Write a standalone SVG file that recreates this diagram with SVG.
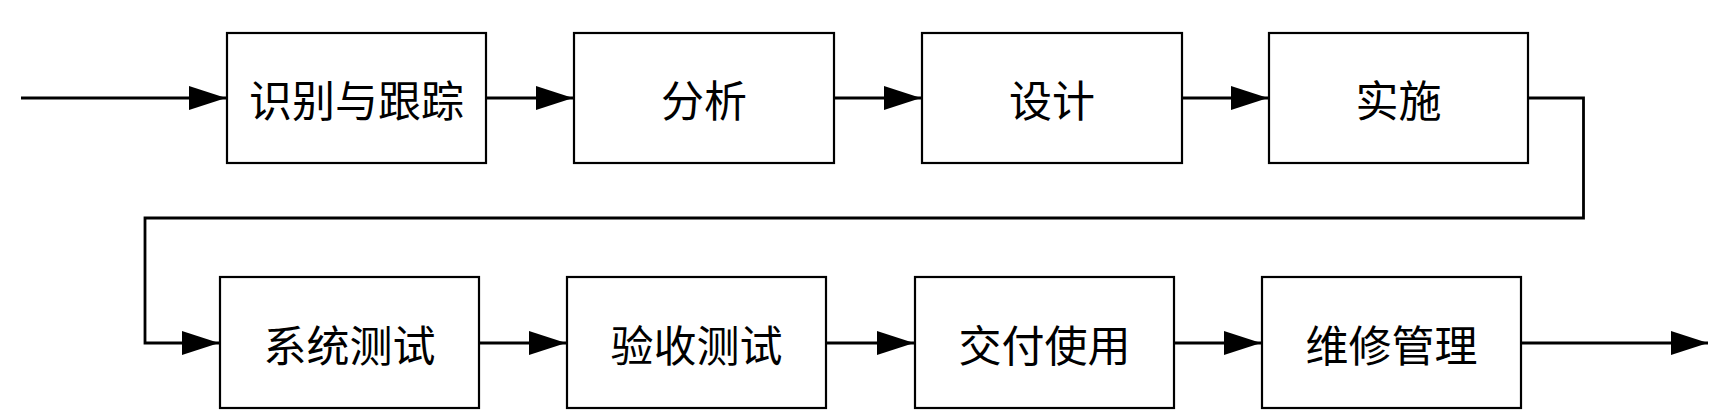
<svg xmlns="http://www.w3.org/2000/svg" width="1714" height="417" viewBox="0 0 1714 417">
  <style>
    .box { fill: #ffffff; stroke: #000000; stroke-width: 2.2; }
    .lbl { font-family: "Noto Sans CJK SC", "Noto Sans", sans-serif; font-size: 43px; fill: #000000; text-anchor: middle; dominant-baseline: central; }
    .conn { fill: none; stroke: #000000; stroke-width: 2.8; }
  </style>
  <defs>
    <marker id="arr" markerUnits="userSpaceOnUse" markerWidth="38" markerHeight="26" viewBox="0 0 38 26" refX="37" refY="13" orient="auto">
      <path d="M0 1 L37 13 L0 25 Z" fill="#000000"/>
    </marker>
  </defs>
  <rect width="1714" height="417" fill="#ffffff"/>

  <g id="connectors">
    <path class="conn" d="M21 98 H226" marker-end="url(#arr)"/>
    <path class="conn" d="M486 98 H573" marker-end="url(#arr)"/>
    <path class="conn" d="M834 98 H921" marker-end="url(#arr)"/>
    <path class="conn" d="M1182 98 H1268" marker-end="url(#arr)"/>
    <path class="conn" d="M1528 98 H1583.5 V218 H145 V343 H219" marker-end="url(#arr)"/>
    <path class="conn" d="M479 343 H566" marker-end="url(#arr)"/>
    <path class="conn" d="M826 343 H914" marker-end="url(#arr)"/>
    <path class="conn" d="M1174 343 H1261" marker-end="url(#arr)"/>
    <path class="conn" d="M1521 343 H1708" marker-end="url(#arr)"/>
  </g>

  <g id="n1"><rect class="box" x="227" y="33" width="259" height="130"/><text class="lbl" x="356.5" y="98">识别与跟踪</text></g>
  <g id="n2"><rect class="box" x="574" y="33" width="260" height="130"/><text class="lbl" x="704" y="98">分析</text></g>
  <g id="n3"><rect class="box" x="922" y="33" width="260" height="130"/><text class="lbl" x="1052" y="98">设计</text></g>
  <g id="n4"><rect class="box" x="1269" y="33" width="259" height="130"/><text class="lbl" x="1398.5" y="98">实施</text></g>

  <g id="n5"><rect class="box" x="220" y="277" width="259" height="131"/><text class="lbl" x="349.5" y="343">系统测试</text></g>
  <g id="n6"><rect class="box" x="567" y="277" width="259" height="131"/><text class="lbl" x="696.5" y="343">验收测试</text></g>
  <g id="n7"><rect class="box" x="915" y="277" width="259" height="131"/><text class="lbl" x="1044.5" y="343">交付使用</text></g>
  <g id="n8"><rect class="box" x="1262" y="277" width="259" height="131"/><text class="lbl" x="1391.5" y="343">维修管理</text></g>
</svg>
